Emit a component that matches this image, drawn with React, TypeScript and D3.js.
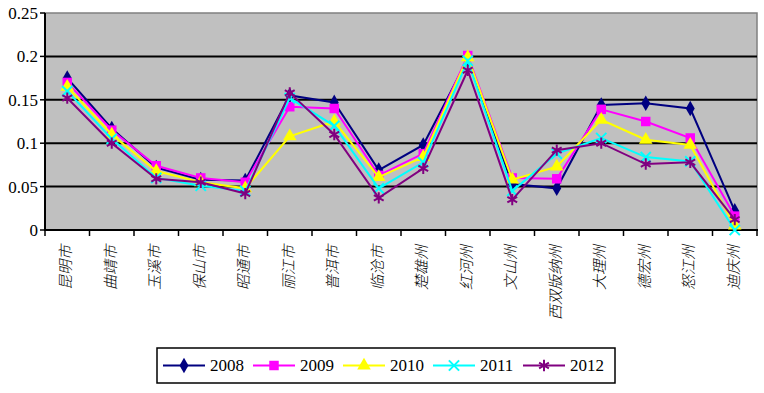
import React, { useEffect, useRef } from "react";
import * as d3 from "d3";

const categories = ["昆明市", "曲靖市", "玉溪市", "保山市", "昭通市", "丽江市", "普洱市", "临沧市", "楚雄州", "红河州", "文山州", "西双版纳州", "大理州", "德宏州", "怒江州", "迪庆州"];
const years = ["2008", "2009", "2010", "2011", "2012"];
const v2008 = [0.175, 0.117, 0.072, 0.058, 0.057, 0.155, 0.147, 0.069, 0.098, 0.197, 0.053, 0.048, 0.144, 0.146, 0.14, 0.022];
const v2009 = [0.17, 0.115, 0.074, 0.06, 0.055, 0.142, 0.14, 0.063, 0.088, 0.201, 0.06, 0.059, 0.139, 0.125, 0.106, 0.016];
const v2010 = [0.165, 0.11, 0.068, 0.055, 0.048, 0.108, 0.125, 0.061, 0.084, 0.199, 0.058, 0.073, 0.127, 0.104, 0.098, 0.005];
const v2011 = [0.16, 0.105, 0.06, 0.051, 0.045, 0.152, 0.12, 0.048, 0.078, 0.195, 0.045, 0.088, 0.106, 0.084, 0.079, 0.0];
const v2012 = [0.152, 0.1, 0.059, 0.055, 0.042, 0.158, 0.11, 0.037, 0.071, 0.184, 0.035, 0.092, 0.1, 0.076, 0.078, 0.012];
const yTicks = [0, 0.05, 0.1, 0.15, 0.2, 0.25];

const seriesValues = [v2008, v2009, v2010, v2011, v2012];
const colors = ["#000080", "#FF00FF", "#FFFF00", "#00FFFF", "#800080"];
const serif = "'Times New Roman', 'Liberation Serif', 'DejaVu Serif', 'Noto Serif', Times, serif";

export default function App() {
  const ref = useRef(null);

  useEffect(() => {
    const svg = d3.select(ref.current);
    svg.selectAll("*").remove();

    const left = 45, right = 757, top = 13, bottom = 230;

    const x = d3.scaleBand().domain(categories).range([left, right]);
    const y = d3.scaleLinear().domain([0, 0.25]).range([bottom, top]);

    // plot area
    svg.append("rect")
      .attr("x", left).attr("y", top)
      .attr("width", right - left).attr("height", bottom - top)
      .attr("fill", "#C0C0C0")
      .attr("stroke", "#808080")
      .attr("stroke-width", 1.5);

    svg.selectAll(".grid")
      .data(yTicks.slice(1, -1))
      .enter()
      .append("line")
      .attr("x1", left).attr("x2", right)
      .attr("y1", (d) => y(d)).attr("y2", (d) => y(d))
      .attr("stroke", "#000").attr("stroke-width", 2);

    // axes
    svg.append("line").attr("x1", left).attr("x2", left).attr("y1", top).attr("y2", bottom + 1)
      .attr("stroke", "#000").attr("stroke-width", 2);
    svg.append("line").attr("x1", left - 1).attr("x2", right + 1).attr("y1", bottom).attr("y2", bottom)
      .attr("stroke", "#000").attr("stroke-width", 2);

    svg.selectAll(".ytick")
      .data(yTicks)
      .enter()
      .append("line")
      .attr("x1", left - 5).attr("x2", left)
      .attr("y1", (d) => y(d)).attr("y2", (d) => y(d))
      .attr("stroke", "#000").attr("stroke-width", 1.5);

    svg.selectAll(".ylab")
      .data(yTicks)
      .enter()
      .append("text")
      .attr("x", 38)
      .attr("y", (d) => y(d) + 6)
      .attr("text-anchor", "end")
      .style("font-family", serif)
      .style("font-size", "17px")
      .text((d) => String(d));

    const edges = categories.map((c) => x(c)).concat([right]);
    svg.selectAll(".xtick")
      .data(edges)
      .enter()
      .append("line")
      .attr("x1", (d) => d).attr("x2", (d) => d)
      .attr("y1", bottom).attr("y2", bottom + 6)
      .attr("stroke", "#000").attr("stroke-width", 1.5);

    svg.selectAll(".xlab")
      .data(categories)
      .enter()
      .append("text")
      .attr("transform", (d) => `translate(${x(d) + x.bandwidth() / 2 + 4},245) rotate(-90)`)
      .attr("text-anchor", "end")
      .style("font-family", "'Noto Sans CJK SC', sans-serif")
      .style("font-size", "15px")
      .style("font-weight", "300")
      .style("font-style", "italic")
      .text((d) => d);

    const symbols = [
      d3.symbol(d3.symbolDiamond, 70),
      d3.symbol(d3.symbolSquare, 90),
      d3.symbol(d3.symbolTriangle, 80),
      d3.symbol(d3.symbolTimes, 70),
      d3.symbol(d3.symbolAsterisk, 90),
    ];
    const filled = [true, true, true, false, false];

    const line = d3.line()
      .x((d, i) => x(categories[i]) + x.bandwidth() / 2)
      .y((d) => y(d));

    seriesValues.forEach((vals, s) => {
      const g = svg.append("g");
      g.append("path")
        .attr("d", line(vals))
        .attr("fill", "none")
        .attr("stroke", colors[s])
        .attr("stroke-width", 2);
      g.selectAll("path.m")
        .data(vals)
        .enter()
        .append("path")
        .attr("class", "m")
        .attr("d", symbols[s]())
        .attr("transform", (d, i) => `translate(${x(categories[i]) + x.bandwidth() / 2},${y(d)})`)
        .attr("fill", filled[s] ? colors[s] : "none")
        .attr("stroke", colors[s])
        .attr("stroke-width", filled[s] ? 0 : 2);
    });

    // legend
    const lg = svg.append("g");
    lg.append("rect")
      .attr("x", 157).attr("y", 348).attr("width", 458).attr("height", 35)
      .attr("fill", "#fff").attr("stroke", "#000").attr("stroke-width", 1.5);
    years.forEach((yr, s) => {
      const x0 = 163 + s * 90;
      lg.append("line")
        .attr("x1", x0).attr("x2", x0 + 42)
        .attr("y1", 365.5).attr("y2", 365.5)
        .attr("stroke", colors[s]).attr("stroke-width", 2);
      lg.append("path")
        .attr("d", symbols[s]())
        .attr("transform", `translate(${x0 + 21},365.5)`)
        .attr("fill", filled[s] ? colors[s] : "none")
        .attr("stroke", colors[s])
        .attr("stroke-width", filled[s] ? 0 : 2);
      lg.append("text")
        .attr("x", x0 + 47).attr("y", 371)
        .style("font-family", serif)
        .style("font-size", "17px")
        .text(yr);
    });
  }, []);

  return (
    <svg ref={ref} width={764} height={393}
      style={{ position: "absolute", left: 0, top: 0, background: "#fff" }}></svg>
  );
}
